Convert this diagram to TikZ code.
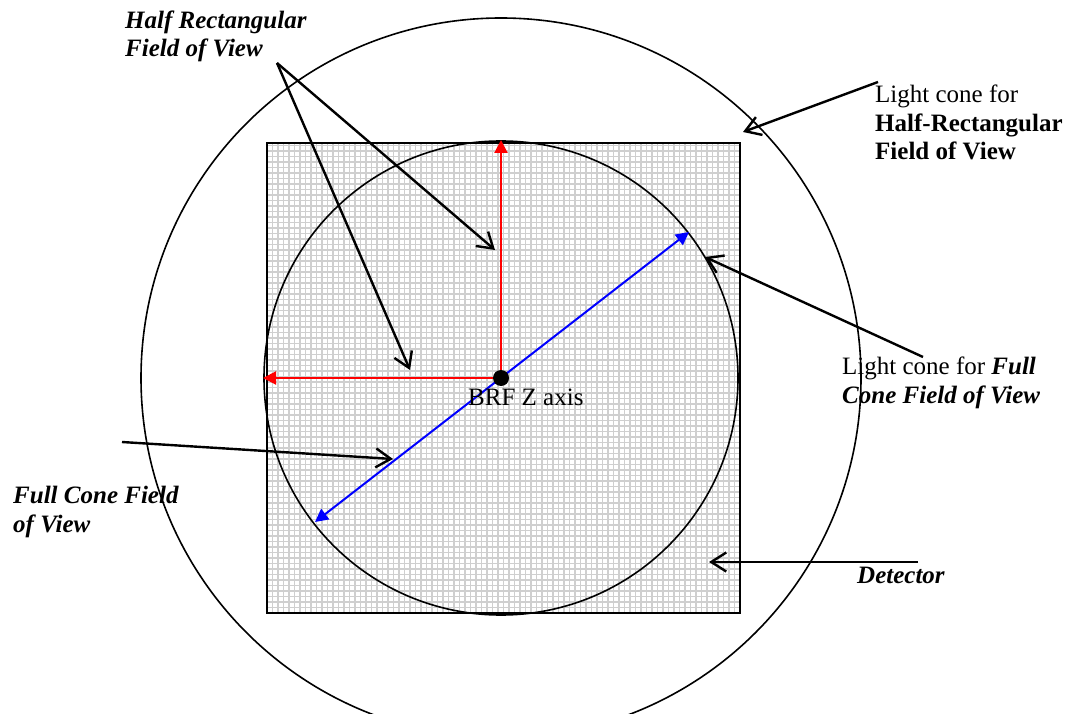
\documentclass[tikz,border=0pt]{standalone}
\usepackage{fontspec}
\setmainfont{Liberation Serif}
\usepackage{tikz}
\usetikzlibrary{arrows.meta}
\definecolor{gridgray}{HTML}{CFCFCF}
\definecolor{axisred}{HTML}{FF0000}
\definecolor{axisblue}{HTML}{0000FF}
\tikzset{
  callout/.style={line width=2.4pt, -{Straight Barb[length=15pt,width=19pt,line width=2.4pt]}},
  axis/.style={line width=2pt, -{Triangle[length=13pt,width=13pt]}},
  conering/.style={line width=1.6pt},
  caption/.style={font=\fontsize{25}{28.5}\selectfont, anchor=base west, inner sep=0pt, align=left},
  lead/.style={font=\fontsize{25}{28.5}\selectfont\bfseries\itshape, anchor=base west, inner sep=0pt, align=left},
}

\begin{document}
\begin{tikzpicture}[x=1pt,y=1pt]
  \useasboundingbox (0,0) rectangle (1067,713);

  % detector
  \fill[white] (267,100) rectangle (740,570);
  \draw[gridgray, line width=1.3pt, step=5.5, shift={(267,100)}] (0,0) grid (473,470);
  \draw[line width=2pt] (267,100) rectangle (740,570);

  % light cones
  \coordinate (brf) at (501,335);
  \draw[conering] (brf) circle (237);
  \draw[conering] (brf) circle (360);

  % field of view axes
  \coordinate (hrtop) at (501,573);
  \coordinate (hrleft) at (263,335);
  \coordinate (fcup) at (689,481);
  \coordinate (fcdown) at (315,191);
  \draw[axis, axisred] (brf) -- (hrtop);
  \draw[axis, axisred] (brf) -- (hrleft);
  \draw[axisblue, line width=2pt, {Triangle[length=13pt,width=13pt]}-{Triangle[length=13pt,width=13pt]}] (fcdown) -- (fcup);
  \fill (brf) circle (8);
  \node[caption] (brflab) at (468,308) {BRF Z axis};

  % labels (base = last line)
  \node[lead] (hrfov) at (125,656) {Half Rectangular\\Field of View};
  \node[caption] (hrcone) at (875,553) {Light cone for\\\textbf{Half-Rectangular}\\\textbf{Field of View}};
  \node[caption] (fccone) at (842,310) {Light cone for \textbf{\textit{Full}}\\\textbf{\textit{Cone Field of View}}};
  \node[lead] (fcfov) at (13,181) {Full Cone Field\\of View};
  \node[lead] (det) at (857,130) {Detector};

  % callouts
  \coordinate (hrfrom) at (277,650);
  \coordinate (hrto1) at (495,463);
  \coordinate (hrto2) at (410,343);
  \coordinate (hrconefrom) at (878,631);
  \coordinate (hrconeto) at (743,581);
  \coordinate (fcconefrom) at (923,356);
  \coordinate (fcconeto) at (705,456);
  \coordinate (fcfrom) at (122,271);
  \coordinate (fcto) at (393,254);
  \coordinate (detfrom) at (918,151);
  \coordinate (detto) at (709,151);
  \draw[callout] (hrfrom) -- (hrto1);
  \draw[callout] (hrfrom) -- (hrto2);
  \draw[callout] (hrconefrom) -- (hrconeto);
  \draw[callout] (fcconefrom) -- (fcconeto);
  \draw[callout] (fcfrom) -- (fcto);
  \draw[callout] (detfrom) -- (detto);
\end{tikzpicture}
\end{document}
